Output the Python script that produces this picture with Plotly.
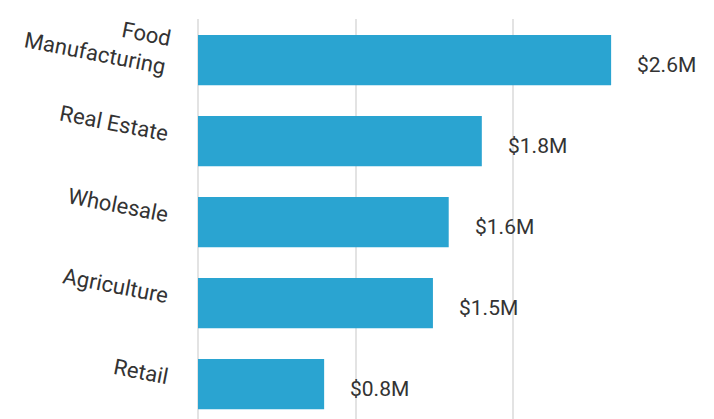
import plotly.graph_objects as go

categories = ["Food<br>Manufacturing", "Real Estate", "Wholesale", "Agriculture", "Retail"]
values = [2.62, 1.80, 1.59, 1.49, 0.80]
value_labels = ["$2.6M", "$1.8M", "$1.6M", "$1.5M", "$0.8M"]

cats_r = categories[::-1]
vals_r = values[::-1]
labs_r = value_labels[::-1]
idx = list(range(len(cats_r)))

fig = go.Figure()
fig.add_trace(go.Bar(
    x=vals_r, y=idx, orientation="h",
    marker=dict(color="#2AA4D1", line=dict(width=0)),
    width=0.62, hoverinfo="skip",
))
fig.add_trace(go.Scatter(x=vals_r, y=idx, yaxis="y2", mode="none",
                         hoverinfo="skip", showlegend=False))

for i, (v, t) in enumerate(zip(vals_r, labs_r)):
    fig.add_annotation(x=v, y=i, text=t, showarrow=False, xanchor="left",
                       xshift=24, yshift=-5,
                       font=dict(family="Roboto", size=21, color="#333333"))

y_lo, y_hi = -0.43, 4.506
lift = 0.09

fig.update_layout(
    width=714, height=419,
    margin=dict(l=190, r=62, t=11, b=8, autoexpand=False),
    plot_bgcolor="white", paper_bgcolor="white",
    showlegend=False,
    xaxis=dict(range=[0, 2.93], dtick=1, showticklabels=False, automargin=False,
               showgrid=True, gridcolor="#E3E3E3", gridwidth=2,
               zeroline=True, zerolinecolor="#E3E3E3", zerolinewidth=2,
               fixedrange=True),
    yaxis=dict(range=[y_lo, y_hi], showticklabels=False, automargin=False,
               showgrid=False, zeroline=False, showline=False),
    yaxis2=dict(range=[y_lo - lift, y_hi - lift], overlaying="y", side="left",
                tickmode="array", automargin=False, ticklabeloverflow="allow",
                tickvals=idx, ticktext=cats_r,
                tickangle=11, ticks="outside", ticklen=24, tickcolor="rgba(0,0,0,0)",
                tickfont=dict(family="Roboto", size=22, color="#333333"),
                showgrid=False, zeroline=False, showline=False),
)

fig.write_html("out.html")
